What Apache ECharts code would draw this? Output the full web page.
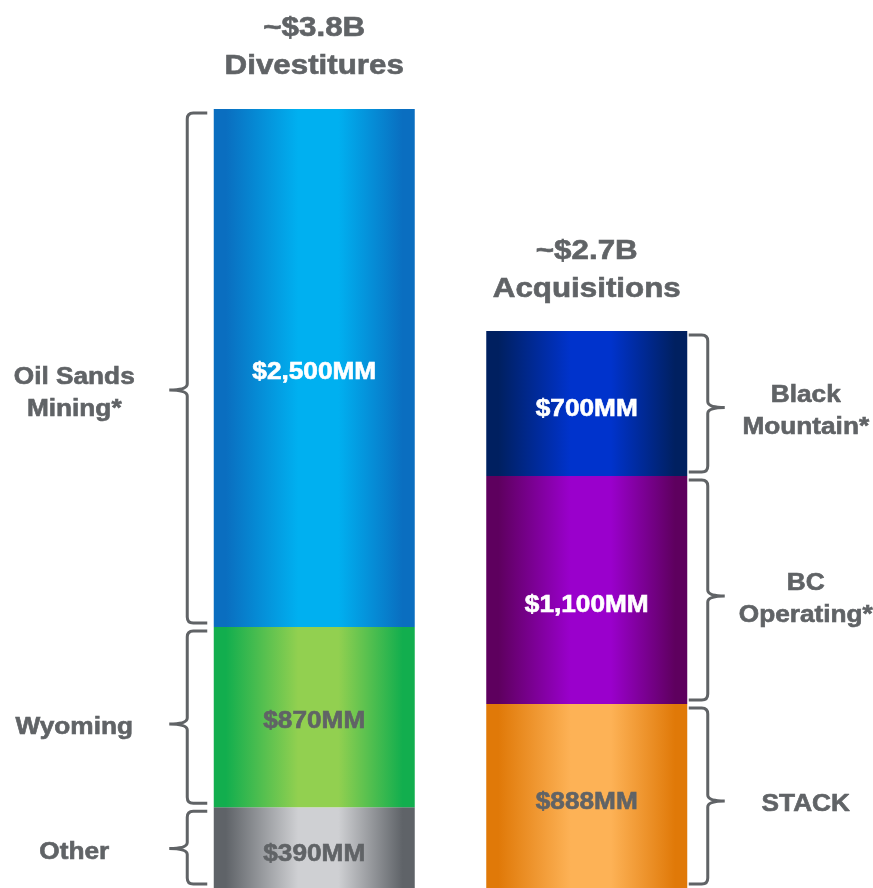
<!DOCTYPE html>
<html><head><meta charset="utf-8">
<script src="https://cdn.jsdelivr.net/npm/echarts@6/dist/echarts.min.js"></script>
<style>html,body{margin:0;padding:0;background:#fff}#c{width:873px;height:888px}</style>
</head><body><div id="c"></div>
<script>
// ---- data ----
const categories = ['Divestitures', 'Acquisitions'];
const totalLabels = ['~$3.8B', '~$2.7B'];
const divestNames = ['Other', 'Wyoming', 'Oil Sands\nMining*'];
const divestValues = [390, 870, 2500];
const acqNames = ['STACK', 'BC\nOperating*', 'Black\nMountain*'];
const acqValues = [888, 1100, 700];

// ---- styles ----
const TEXT = '#606366';
const segColors = [
  [['#5f6368', '#cfd0d3'], ['#12ae4e', '#92d050'], ['#0a6ec0', '#00b0f0']],
  [['#e07908', '#fdb256'], ['#5e005e', '#9a00cc'], ['#002060', '#0033cc']]
];
const labelColors = [[TEXT, TEXT, '#ffffff'], [TEXT, '#ffffff', '#ffffff']];
const braceTipShift = [[1, 7, 22], [5, 6, 4]];
const valueLabelShift = [[3, 1, 1], [3, 12, 2]];
const TXT_DY = 4;
const FONT_LBL = 'bold 23px "Liberation Sans", Arial, sans-serif';
const FONT_TTL = 'bold 27px "Liberation Sans", Arial, sans-serif';
const SX = 1.14;

function grad(pair) {
  const [d, l] = pair;
  return { type: 'linear', x: 0, y: 0, x2: 1, y2: 0, colorStops: [
    { offset: 0, color: d }, { offset: 0.06, color: d }, { offset: 0.42, color: l },
    { offset: 0.62, color: l }, { offset: 0.94, color: d }, { offset: 1, color: d }] };
}

const allValues = [divestValues, acqValues];
const allNames = [divestNames, acqNames];

const barSeries = [0, 1, 2].map(i => ({
  type: 'bar', stack: 'total', barWidth: 201,
  data: [0, 1].map(c => ({ value: allValues[c][i], itemStyle: { color: grad(segColors[c][i]) } }))
}));

const segData = [];
[0, 1].forEach(c => {
  let s = 0;
  allValues[c].forEach((v, i) => { segData.push([c, s, s + v, i, v]); s += v; });
});
const totals = [0, 1].map(c => [c, allValues[c].reduce((a, b) => a + b, 0)]);

function txt(x, y, text, font, fill, sx) {
  return { type: 'text', x: x, y: y + TXT_DY, scaleX: sx, silent: true,
    style: { x: 0, y: 0, text: text, font: font, fill: fill, stroke: fill, lineWidth: 0.6,
      textAlign: 'center', textVerticalAlign: 'middle', lineHeight: 32 } };
}

const segSeries = {
  type: 'custom', data: segData, z: 10,
  renderItem: function (params, api) {
    const c = api.value(0), s = api.value(1), e = api.value(2), lvl = api.value(3), v = api.value(4);
    const pb = api.coord([c, s]), pt = api.coord([c, e]);
    const cx = pb[0], yBot = pb[1], yTop = pt[1];
    const y0 = yTop + 4, y1 = yBot - 4;
    const ym = (yTop + yBot) / 2 + braceTipShift[c][lvl];
    let vx, tipX, mid, lx;
    if (c === 0) { vx = cx - 127; tipX = cx - 107; mid = vx - 18; lx = vx - 113; }
    else { vx = cx + 121; tipX = cx + 102; mid = vx + 17; lx = vx + 98; }
    const dir = c === 0 ? 1 : -1;
    const r = 6;
    const path = 'M' + tipX + ' ' + y0 + ' L' + (vx + dir * r) + ' ' + y0 +
      ' Q' + vx + ' ' + y0 + ' ' + vx + ' ' + (y0 + r) +
      ' L' + vx + ' ' + (ym - r) + ' Q' + vx + ' ' + ym + ' ' + mid + ' ' + ym +
      ' Q' + vx + ' ' + ym + ' ' + vx + ' ' + (ym + r) +
      ' L' + vx + ' ' + (y1 - r) + ' Q' + vx + ' ' + y1 + ' ' + (vx + dir * r) + ' ' + y1 +
      ' L' + tipX + ' ' + y1;
    const valText = '$' + v.toLocaleString('en-US') + 'MM';
    return { type: 'group', children: [
      { type: 'path', shape: { pathData: path }, style: { fill: 'none', stroke: TEXT, lineWidth: 3 }, silent: true },
      txt(lx, ym, allNames[c][lvl], FONT_LBL, TEXT, SX),
      txt(cx, (yTop + yBot) / 2 + valueLabelShift[c][lvl], valText, FONT_LBL, labelColors[c][lvl], SX)
    ] };
  }
};

const titleSeries = {
  type: 'custom', data: totals, z: 10,
  renderItem: function (params, api) {
    const c = api.value(0), t = api.value(1);
    const p = api.coord([c, t]);
    return { type: 'group', children: [
      txt(p[0], p[1] - 84, totalLabels[c], FONT_TTL, TEXT, 1.16),
      txt(p[0], p[1] - 46, categories[c], FONT_TTL, TEXT, 1.16)
    ] };
  }
};

const chart = echarts.init(document.getElementById('c'));
chart.setOption({
  animation: false,
  grid: { left: 178, width: 545, top: 109, height: 781 },
  xAxis: { type: 'category', data: categories, show: false },
  yAxis: { type: 'value', min: 0, max: 3760, show: false },
  series: barSeries.concat([segSeries, titleSeries])
});
</script></body></html>
